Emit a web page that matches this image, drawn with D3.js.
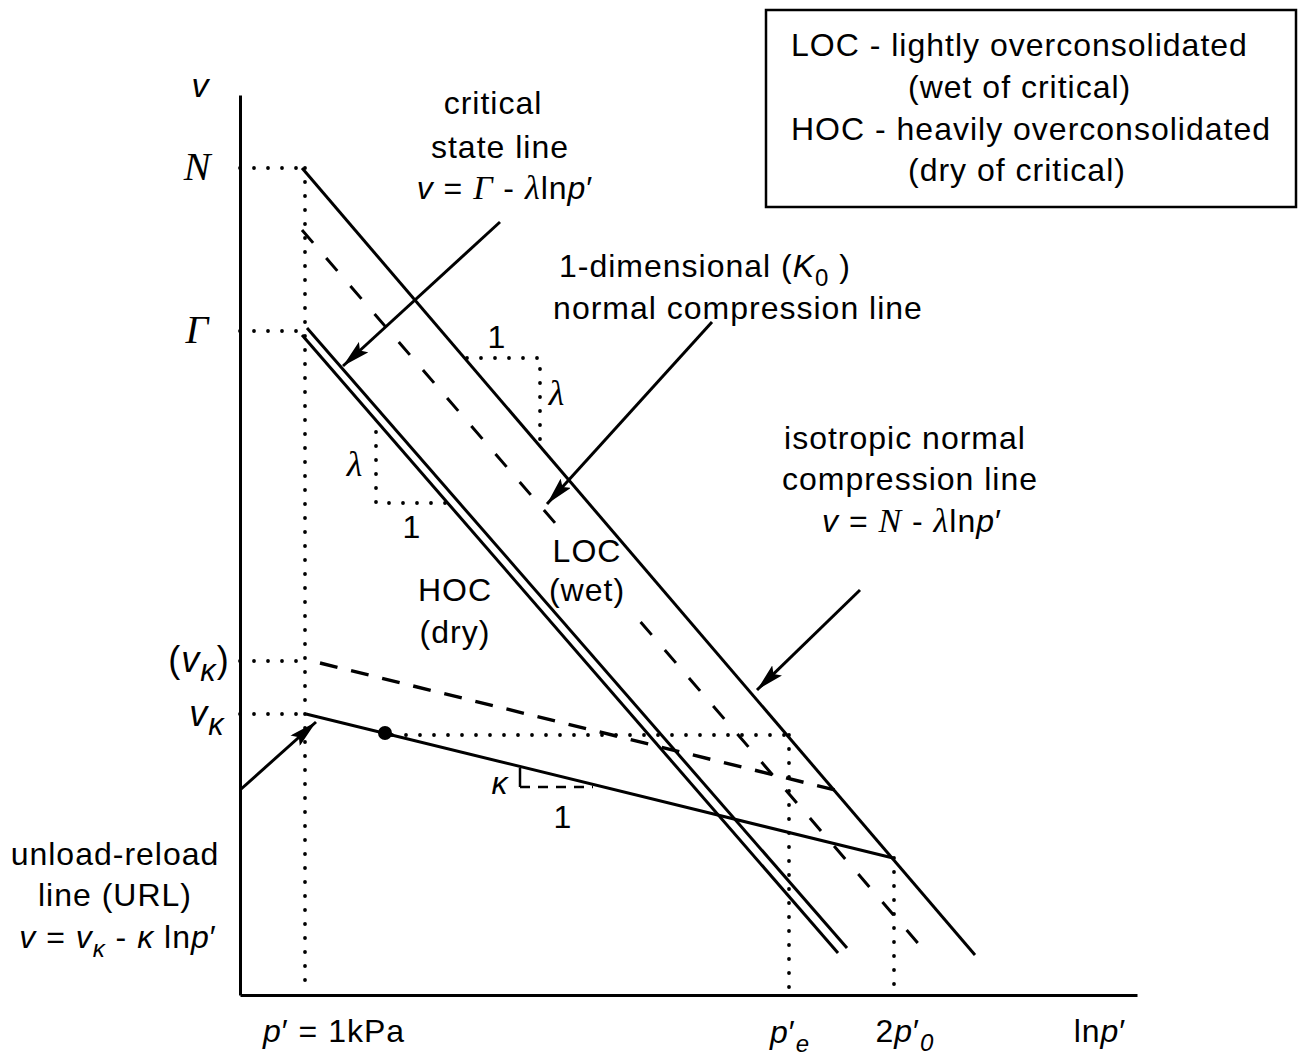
<!DOCTYPE html>
<html><head><meta charset="utf-8">
<script src="https://cdn.jsdelivr.net/npm/d3@7"></script>
<style>
html,body{margin:0;padding:0;background:#fff;}
svg{display:block;}
text{font-family:"Liberation Sans",Arial,sans-serif;fill:#000;}
</style></head>
<body>
<svg id="chart" width="1305" height="1058"></svg>
<script>
// ---- data (lnp' in schematic units, v in schematic units) ----
const vLabels = ["N", "Γ", "(vκ)", "vκ"];
const vLevels = [8.27, 6.64, 3.34, 2.81];
const pLabels = ["p' = 1kPa", "p'e", "2p'0", "lnp'"];
const pLevels = [0.0, 4.85, 6.0, 7.95];

const nclLine   = [[-0.03, 8.27], [6.70, 0.40]];   // isotropic NCL
const k0Line    = [[-0.03, 7.65], [6.18, 0.46]];   // 1-D (K0) NCL
const cslLineA  = [[-0.03, 6.60], [5.33, 0.42]];   // critical state line (double)
const cslLineB  = [[0.02, 6.67], [5.42, 0.47]];
const urlLine   = [[0.01, 2.81], [5.88, 1.37]];    // unload-reload line
const urlDashed = [[0.15, 3.32], [5.30, 2.05]];
const statePoint = [0.80, 2.62];
const pE = 4.84, p0x2 = 5.89;

const dottedGuides = [
  [[-0.65, 8.27], [-0.03, 8.27]],
  [[-0.65, 6.64], [-0.03, 6.64]],
  [[-0.65, 3.34], [0.0, 3.34]],
  [[-0.65, 2.81], [0.0, 2.81]],
  [[0.0, 8.27], [0.0, 0.03]],
  [[0.87, 2.60], [pE, 2.60]],
  [[pE, 2.60], [pE, 0.03]],
  [[p0x2, 1.37], [p0x2, 0.03]],
  [[1.62, 6.37], [2.35, 6.37], [2.35, 5.52]],
  [[0.71, 5.63], [0.71, 4.92], [1.43, 4.92]]
];
const kappaTick = [[2.15, 2.27], [2.15, 2.08]];
const kappaRun  = [[2.15, 2.08], [2.88, 2.08]];

const arrows = [
  [[1.95, 7.73], [0.38, 6.29]],
  [[4.07, 6.73], [2.42, 4.91]],
  [[5.55, 4.05], [4.52, 3.05]],
  [[-0.65, 2.05], [0.11, 2.73]]
];

// ---- scales ----
const svg = d3.select("#chart");
const x = d3.scaleLinear().domain([-0.65, 8.32]).range([240, 1137]);
const y = d3.scaleLinear().domain([0, 9]).range([995, 95]);
const line = d3.line().x(d => x(d[0])).y(d => y(d[1]));

const defs = svg.append("defs");
defs.append("marker")
  .attr("id", "ah").attr("markerUnits", "userSpaceOnUse")
  .attr("viewBox", "0 0 28 14").attr("refX", 28).attr("refY", 7)
  .attr("markerWidth", 28).attr("markerHeight", 14).attr("orient", "auto")
  .append("path").attr("d", "M0,0 L28,7 L0,14 L5,7 Z").attr("fill", "#000");
// mask: K0 dashed line passes behind the LOC label
const mask = defs.append("mask").attr("id", "locMask").attr("maskUnits", "userSpaceOnUse")
  .attr("x", 0).attr("y", 0).attr("width", 1305).attr("height", 1058);
mask.append("rect").attr("width", 1305).attr("height", 1058).attr("fill", "#fff");
mask.append("rect").attr("x", 551).attr("y", 530).attr("width", 78).attr("height", 82).attr("fill", "#000");

// axes (bare lines)
svg.append("g").attr("transform", `translate(${x(-0.65)},0)`)
  .call(d3.axisLeft(y).tickValues([]).tickSizeOuter(0))
  .select(".domain").attr("stroke", "#000").attr("stroke-width", 3);
svg.append("g").attr("transform", `translate(0,${y(0)})`)
  .call(d3.axisBottom(x).tickValues([]).tickSizeOuter(0))
  .select(".domain").attr("stroke", "#000").attr("stroke-width", 3);

// dotted guides
svg.append("g").selectAll("path").data(dottedGuides).join("path")
  .attr("d", line).attr("fill", "none").attr("stroke", "#000")
  .attr("stroke-width", 3.8).attr("stroke-linecap", "round")
  .attr("stroke-dasharray", "0,14");

// main lines
const solid = [nclLine, cslLineA, cslLineB, urlLine];
svg.append("g").selectAll("path").data(solid).join("path")
  .attr("d", line).attr("fill", "none").attr("stroke", "#000").attr("stroke-width", 3);
svg.append("path").attr("d", line(k0Line)).attr("fill", "none").attr("stroke", "#000")
  .attr("stroke-width", 3).attr("stroke-dasharray", "17,20").attr("mask", "url(#locMask)");
svg.append("path").attr("d", line(urlDashed)).attr("fill", "none").attr("stroke", "#000")
  .attr("stroke-width", 3.4).attr("stroke-dasharray", "18,14");

// kappa triangle
svg.append("path").attr("d", line(kappaTick)).attr("stroke", "#000").attr("stroke-width", 2.5);
svg.append("path").attr("d", line(kappaRun)).attr("stroke", "#000").attr("stroke-width", 2.5)
  .attr("stroke-dasharray", "10,8");

// state point
svg.append("circle").attr("cx", x(statePoint[0])).attr("cy", y(statePoint[1])).attr("r", 7).attr("fill", "#000");

// arrows
svg.append("g").selectAll("path").data(arrows).join("path")
  .attr("d", line).attr("fill", "none").attr("stroke", "#000").attr("stroke-width", 3)
  .attr("marker-end", "url(#ah)");

// ---- rich text helper ----
const FS = 32;
function rich(px, py, parts, opts = {}) {
  const t = svg.append("text").attr("x", px).attr("y", py)
    .attr("text-anchor", opts.anchor || "middle")
    .attr("font-size", opts.size || FS)
    .attr("letter-spacing", opts.ls != null ? opts.ls : 1);
  let shift = 0;
  const subScale = opts.subScale || 0.75;
  parts.forEach(p => {
    if (typeof p === "string") p = { t: p };
    const s = t.append("tspan").text(p.t);
    let want = p.sub ? 9 : 0;
    if (want !== shift) { s.attr("dy", want - shift); shift = want; }
    if (p.i) s.attr("font-style", "italic");
    if (p.serif) s.attr("font-family", "'Liberation Serif','Times New Roman',serif");
    if (p.sub) s.attr("font-size", (opts.size || FS) * subScale);
    if (p.size) s.attr("font-size", p.size);
  });
  return t;
}

// axis symbol labels
rich(200, 97, [{ t: "v", i: 1 }], { size: 34, ls: 0 });
rich(197, y(vLevels[0]) + 12, [{ t: vLabels[0], i: 1, serif: 1 }], { size: 40, ls: 0 });
rich(197, y(vLevels[1]) + 12, [{ t: vLabels[1], i: 1, serif: 1 }], { size: 40, ls: 0 });
rich(199, y(vLevels[2]) + 11, ["(", { t: "v", i: 1 }, { t: "κ", i: 1, sub: 1 }, ")"], { size: 36, ls: 1, subScale: 0.85 });
rich(207, y(vLevels[3]) + 12, [{ t: "v", i: 1 }, { t: "κ", i: 1, sub: 1 }], { size: 36, ls: 1, subScale: 0.85 });

rich(x(pLevels[0]) + 29, 1042, [{ t: "p", i: 1 }, "′ = 1kPa"]);
rich(x(pLevels[1]), 1043, [{ t: "p", i: 1 }, "′", { t: "e", i: 1, sub: 1 }]);
rich(x(pLevels[2]), 1042, ["2", { t: "p", i: 1 }, "′", { t: "0", i: 1, sub: 1 }]);
rich(x(pLevels[3]), 1042, ["ln", { t: "p", i: 1 }, "′"]);

// annotations
rich(493, 114, ["critical"]);
rich(500, 158, ["state line"]);
rich(505, 199, [{ t: "v", i: 1 }, " = ", { t: "Γ", i: 1, serif: 1, size: 34 }, " - ", { t: "λ", i: 1, serif: 1, size: 34 }, "ln", { t: "p", i: 1 }, "′"]);

rich(705, 277, ["1-dimensional (", { t: "K", i: 1 }, { t: "0", sub: 1 }, " )"]);
rich(738, 319, ["normal compression line"]);

rich(905, 449, ["isotropic normal"]);
rich(910, 490, ["compression line"]);
rich(912, 532, [{ t: "v", i: 1 }, " = ", { t: "N", i: 1, serif: 1, size: 34 }, " - ", { t: "λ", i: 1, serif: 1, size: 34 }, "ln", { t: "p", i: 1 }, "′"]);

rich(587, 562, ["LOC"]);
rich(587, 601, ["(wet)"]);
rich(455, 601, ["HOC"]);
rich(455, 643, ["(dry)"]);

rich(115, 865, ["unload-reload"]);
rich(115, 906, ["line (URL)"]);
rich(118, 948, [{ t: "v", i: 1 }, " = ", { t: "v", i: 1 }, { t: "κ", i: 1, sub: 1 }, " - ", { t: "κ", i: 1 }, " ln", { t: "p", i: 1 }, "′"]);

// slope triangles
rich(497, 348, ["1"]);
rich(557, 405, [{ t: "λ", i: 1, serif: 1 }], { size: 36 });
rich(355, 476, [{ t: "λ", i: 1, serif: 1 }], { size: 36 });
rich(412, 538, ["1"]);
rich(500, 794, [{ t: "κ", i: 1 }]);
rich(563, 828, ["1"]);

// legend box
svg.append("rect").attr("x", 766).attr("y", 10).attr("width", 530).attr("height", 197)
  .attr("fill", "none").attr("stroke", "#000").attr("stroke-width", 2.5);
rich(791, 56, ["LOC - lightly overconsolidated"], { anchor: "start" });
rich(908, 98, ["(wet of critical)"], { anchor: "start" });
rich(791, 140, ["HOC - heavily overconsolidated"], { anchor: "start" });
rich(908, 181, ["(dry of critical)"], { anchor: "start" });
</script>
</body></html>
